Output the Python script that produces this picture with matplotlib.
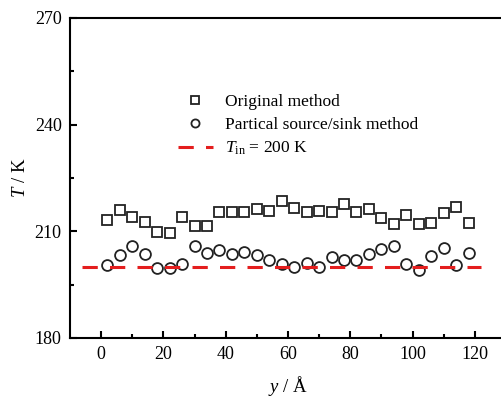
import numpy as np
import matplotlib
matplotlib.use('Agg')
import matplotlib.pyplot as plt

plt.rcParams['font.family'] = ['Liberation Serif', 'DejaVu Serif']
plt.rcParams['mathtext.fontset'] = 'custom'
plt.rcParams['mathtext.rm'] = 'Liberation Serif'
plt.rcParams['mathtext.it'] = 'Liberation Serif:italic'

# Positions along y (Angstrom)
y_pos = [2, 6, 10, 14, 18, 22, 26, 30, 34, 38, 42, 46, 50, 54, 58,
         62, 66, 70, 74, 78, 82, 86, 90, 94, 98, 102, 106, 110, 114, 118]

# Temperature, original method
t_original = [213.2, 216.0, 214.0, 212.5, 209.9, 209.5, 214.0, 211.5, 211.5, 215.5,
              215.5, 215.4, 216.3, 215.8, 218.6, 216.7, 215.4, 215.8, 215.4, 217.7,
              215.3, 216.2, 213.7, 212.0, 214.6, 212.0, 212.3, 215.1, 216.8, 212.3]

# Temperature, partical source/sink method
t_source_sink = [200.5, 203.4, 206.0, 203.6, 199.6, 199.6, 200.8, 206.0, 204.0, 204.8,
                 203.6, 204.1, 203.4, 201.8, 200.8, 200.1, 201.0, 200.1, 202.7, 201.9,
                 201.9, 203.6, 205.0, 206.0, 200.8, 199.1, 203.1, 205.2, 200.5, 204.0]

t_in = 200
line_span = [-6, 122]

fig = plt.figure(figsize=(5.02, 3.99), dpi=100)
ax = fig.add_axes([0.1394, 0.1529, 0.8685, 0.802])

ax.plot(y_pos, t_original, linestyle='none', marker='s', markersize=7.5,
        markerfacecolor='none', markeredgecolor='#222222', markeredgewidth=1.3,
        label='Original method')
ax.plot(y_pos, t_source_sink, linestyle='none', marker='o', markersize=7.8,
        markerfacecolor='none', markeredgecolor='#222222', markeredgewidth=1.3,
        label='Partical source/sink method')
ax.plot(line_span, [t_in, t_in], color='#e41e1e', linewidth=2.2,
        dashes=(5, 4), label=r'$T_{\mathrm{in}}$ = %d K' % t_in)

ax.set_xlim(-10, 130)
ax.set_ylim(180, 270)
ax.set_xticks([0, 20, 40, 60, 80, 100, 120])
ax.set_xticks(np.arange(10, 130, 20), minor=True)
ax.set_yticks([180, 210, 240, 270])
ax.set_yticks([195, 225, 255], minor=True)

ax.spines['right'].set_visible(False)
for s in ['left', 'bottom', 'top']:
    ax.spines[s].set_linewidth(1.5)

ax.tick_params(which='both', direction='in', top=False, right=False,
               labelsize=13, width=1.5, pad=6)
ax.tick_params(which='major', length=5)
ax.tick_params(which='minor', length=3)

ax.set_xlabel(r'$y$ / Å', fontsize=13.5, labelpad=8)
ax.set_ylabel(r'$T$ / K', fontsize=13.5, labelpad=4)

ax.legend(loc='upper left', bbox_to_anchor=(0.228, 0.79), frameon=False,
          fontsize=12.5, handlelength=2.0, handletextpad=0.7, labelspacing=0.4,
          markerscale=0.75, borderpad=0)

fig.savefig('out.png', dpi=100)
